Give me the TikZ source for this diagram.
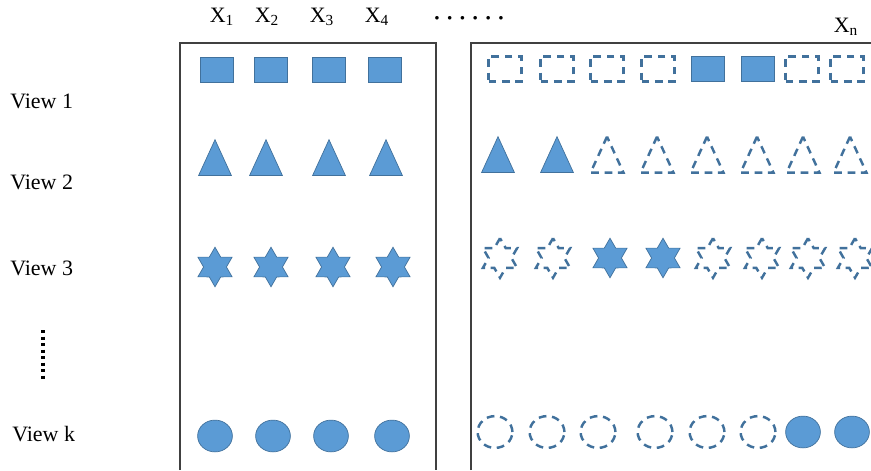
\documentclass[tikz,border=0pt]{standalone}
\usepackage{fontspec}
\setmainfont{Liberation Serif}
\usetikzlibrary{shapes.geometric}
\definecolor{fillb}{HTML}{5B9BD5}
\definecolor{edgeb}{HTML}{41719C}
\tikzset{
  bx/.style={draw=black!75,line width=.6pt},
  lb/.style={font=\fontsize{12.5}{14}\selectfont,inner sep=0pt},
  full/.style={draw=edgeb,fill=fillb,line width=.4pt,inner sep=0pt},
  hole/.style={draw=edgeb,line width=1.4pt,dash pattern=on 4.4pt off 3.2pt,inner sep=0pt},
  sq/.style={rectangle,minimum width=18.7pt,minimum height=14.2pt},
  tri/.style={isosceles triangle,isosceles triangle stretches,shape border rotate=90,
    minimum width=18.7pt,minimum height=20.4pt},
  st/.style={star,star points=6,star point ratio=1.73,minimum size=22.5pt},
  ov/.style={ellipse,minimum width=19.8pt,minimum height=18.1pt},
}
\begin{document}
\begin{tikzpicture}[x=0.02cm,y=-0.02cm]
\useasboundingbox (0,0) rectangle (871,470);
% the two sample blocks
\draw[bx] (180,470) -- (180,43) -- (436,43) -- (436,470);
\draw[bx] (471,470) -- (471,43) -- (871,43);
% column heads
\foreach \x/\i in {222/1, 267/2, 322/3, 377/4}
  \node[lb] (x\i) at (\x,17) {X\textsubscript{\i}};
\node[lb] (xdots) at (469,21) {\textbf{· · · · · ·}};
\node[lb] (xn) at (846,27) {X\textsubscript{n}};
% view names
\node[lb,anchor=west] (v1) at (10,101) {View 1};
\node[lb,anchor=west] (v2) at (10,182) {View 2};
\node[lb,anchor=west] (v3) at (10,268) {View 3};
\node[lb,anchor=west] (vk) at (12,434) {View k};
\draw[line width=2pt,dash pattern=on 1.8pt off 1.9pt] (43,330) -- (43,379);
% first block: every view present
\foreach \x [count=\i] in {217,271,329,385} \node[full,sq] (a1\i) at (\x,70) {};
\foreach \x [count=\i] in {215,266,329,386} \node[full,tri] (a2\i) at (\x,165) {};
\foreach \x [count=\i] in {215,271,333,393} \node[full,st] (a3\i) at (\x,267) {};
\foreach \x [count=\i] in {215,273,331,392} \node[full,ov] (ak\i) at (\x,436) {};
% second block: views partly missing
\foreach \x/\f [count=\i] in {505/hole,557/hole,607/hole,658/hole,708/full,758/full,802/hole,847/hole}
  \node[\f,sq] (b1\i) at (\x,69) {};
\foreach \x/\f [count=\i] in {498/full,557/full,607/hole,657/hole,707/hole,757/hole,803/hole,850/hole}
  \node[\f,tri] (b2\i) at (\x,162) {};
\foreach \x/\f [count=\i] in {500/hole,553/hole,610/full,663/full,713/hole,762/hole,808/hole,855/hole}
  \node[\f,st] (b3\i) at (\x,258) {};
\foreach \x/\f [count=\i] in {495/hole,547/hole,598/hole,655/hole,707/hole,758/hole,803/full,852/full}
  \node[\f,ov] (bk\i) at (\x,432) {};
\end{tikzpicture}
\end{document}
